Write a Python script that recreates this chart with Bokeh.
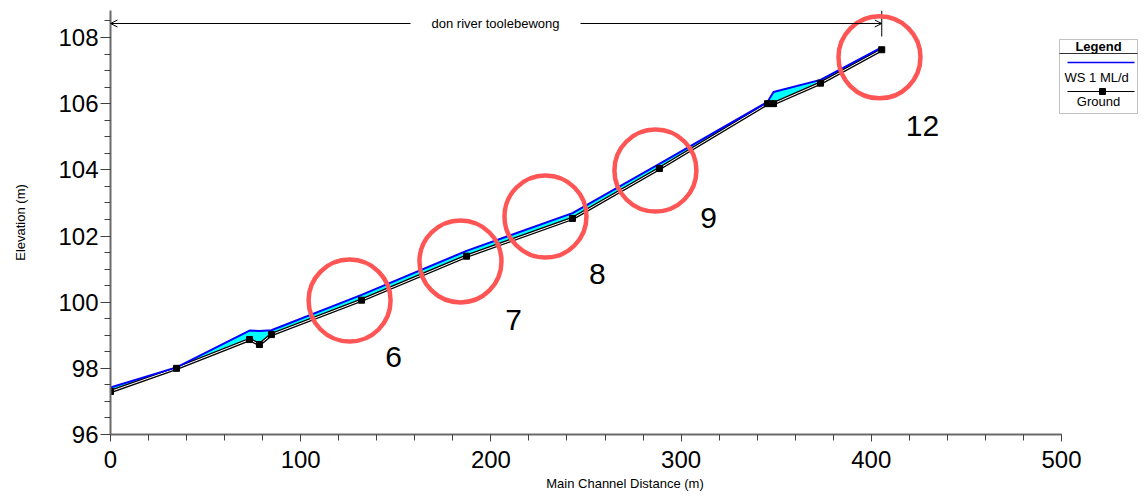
from bokeh.plotting import figure
from bokeh.models import FixedTicker, Range1d, Arrow, OpenHead, Title, BoxAnnotation
from bokeh.embed import file_html
from bokeh.resources import INLINE
from bokeh.core.properties import value

# ---- data ----
station = [0, 34.7, 73.1, 78.3, 84.6, 132.0, 187.2, 242.9, 288.6, 345.4, 348.6, 373.3, 405.5]
ground = [97.30, 98.00, 98.87, 98.72, 99.02, 100.06, 101.39, 102.53, 104.04, 106.00, 106.00, 106.62, 107.63]
ws = [97.42, 98.03, 99.14, 99.13, 99.15, 100.22, 101.55, 102.69, 104.18, 106.05, 106.35, 106.72, 107.70]

circle_x = [125.7, 184.0, 228.7, 286.5, 404.3]
circle_y = [100.05, 101.23, 102.59, 103.98, 107.40]
note_text = ["6", "7", "8", "9", "12"]
note_x = [148.8, 211.9, 256.0, 314.4, 426.9]
note_y = [98.33, 99.45, 100.84, 102.53, 105.31]

x_ticks = [0, 100, 200, 300, 400, 500]
x_minor = list(range(0, 501, 20))
y_ticks = [96, 98, 100, 102, 104, 106, 108]
y_minor = [96 + 0.5 * k for k in range(26)]

reach_name = "don river toolebewong"
reach_start, reach_end = 0, 405.5
legend_ws = "WS  1 ML/d"
legend_ground = "Ground"
x_title = "Main Channel Distance (m)"
y_title = "Elevation (m)"

FONT = "Liberation Sans"

# ---- layout (canvas pixels) ----
W, H = 1139, 494
ML, MT = 110, 10
MB = H - 434
PX_X = (1061 - 110) / 500.0
PX_Y = (434 - 37) / 12.0
X_END = (W - ML) / PX_X
Y_END = 96 + (434 - MT) / PX_Y


def px(xp, yp):
    """canvas pixel -> data coordinates"""
    return (xp - 110) / PX_X, 96 + (434 - yp) / PX_Y


p = figure(width=W, height=H, output_backend="svg", toolbar_location=None,
           x_range=Range1d(0, X_END), y_range=Range1d(96, Y_END),
           min_border_left=ML, min_border_right=0, min_border_top=MT, min_border_bottom=MB)
p.outline_line_color = None
p.grid.visible = False
p.background_fill_color = "white"
p.border_fill_color = "white"

# axes
xa = p.xaxis[0]
xa.ticker = FixedTicker(ticks=x_ticks, minor_ticks=x_minor)
xa.bounds = (0, 500)
ya = p.yaxis[0]
ya.ticker = FixedTicker(ticks=y_ticks, minor_ticks=y_minor)
ya.bounds = (96, Y_END)
ya.axis_label = y_title
for ax in (xa, ya):
    ax.axis_line_color = "#6a6a6a"
    ax.axis_line_width = 2
    ax.major_tick_line_color = "#404040"
    ax.minor_tick_line_color = "#404040"
    ax.major_tick_in = 0
    ax.minor_tick_in = 0
    ax.major_label_text_font = FONT
    ax.major_label_text_font_size = "24px"
    ax.major_label_text_color = "black"
    ax.axis_label_text_font = FONT
    ax.axis_label_text_font_size = "13px"
    ax.axis_label_text_font_style = "normal"
    ax.axis_label_text_color = "black"
xa.major_tick_out = 7
xa.minor_tick_out = 6
xa.major_label_standoff = 9
ya.major_tick_out = 10
ya.minor_tick_out = 6
ya.major_label_standoff = 2
ya.axis_label_standoff = 27

# x-axis title centred under the 0-500 axis (title in the bottom panel)
frame_mid = ML + (W - ML) / 2.0
p.add_layout(Title(text=x_title, align="center", offset=583 - frame_mid, standoff=6,
                   text_font=FONT, text_font_size="13px", text_font_style="normal",
                   text_color="black"), "below")

# water fill, ground, water surface
p.varea(x=station, y1=ground, y2=ws, fill_color="#00ffff")
p.line(station, ground, line_color="black", line_width=3.5)
p.line(station, ground, line_color="white", line_width=1)
p.line(station, ws, line_color="#0000ff", line_width=2)
p.scatter(station, ground, marker="square", size=6, color="black")

# reach annotation
ay = px(0, 23)[1]
tx0 = px(410, 0)[0]
tx1 = px(580, 0)[0]
p.add_layout(Arrow(end=OpenHead(size=7, line_width=1, line_color="black"),
                   x_start=tx0, y_start=ay, x_end=reach_start, y_end=ay,
                   line_color="black", line_width=1))
p.add_layout(Arrow(end=OpenHead(size=7, line_width=1, line_color="black"),
                   x_start=tx1, y_start=ay, x_end=reach_end, y_end=ay,
                   line_color="black", line_width=1))
p.segment(x0=[reach_end], y0=[Y_END], x1=[reach_end], y1=[px(0, 36)[1]],
          line_color="black", line_width=1)
p.text(x=[(tx0 + tx1) / 2], y=[ay], text=[reach_name], text_align="center",
       text_baseline="middle", text_font=value(FONT), text_font_size="13px",
       text_color="black")

# highlight circles and numbers
p.scatter(circle_x, circle_y, marker="circle", size=82, fill_alpha=0,
          line_color="#ff5555", line_width=4.5)
p.text(x=note_x, y=note_y, text=note_text, text_align="center", text_baseline="middle",
       text_font=value(FONT), text_font_size="30px", text_color="black")

# legend (drawn manually, right of the 0-500 axis)
l, t = px(1059, 39)
r, b = px(1137, 113)
p.add_layout(BoxAnnotation(left=l, right=r, top=t, bottom=b, fill_alpha=0,
                           line_color="#333333", line_width=1))
sy = px(0, 53)[1]
p.segment(x0=[l], y0=[sy], x1=[r], y1=[sy], line_color="#333333", line_width=1)
cx = (l + r) / 2
lx0 = px(1067, 0)[0]
lx1 = px(1134, 0)[0]
p.text(x=[cx], y=[px(0, 46)[1]], text=["Legend"], text_align="center", text_baseline="middle",
       text_font=value(FONT), text_font_size="13px", text_font_style="bold", text_color="black")
wy = px(0, 62)[1]
p.segment(x0=[lx0], y0=[wy], x1=[lx1], y1=[wy], line_color="#0000ff", line_width=1.5)
p.text(x=[cx], y=[px(0, 77)[1]], text=[legend_ws], text_align="center", text_baseline="middle",
       text_font=value(FONT), text_font_size="13px", text_color="black")
gy = px(0, 91)[1]
p.segment(x0=[lx0], y0=[gy], x1=[lx1], y1=[gy], line_color="black", line_width=1)
p.scatter(x=[px(1102, 0)[0]], y=[gy], marker="square", size=6, color="black")
p.text(x=[cx], y=[px(0, 101)[1]], text=[legend_ground], text_align="center", text_baseline="middle",
       text_font=value(FONT), text_font_size="13px", text_color="black")

open("out.html", "w").write(file_html(p, INLINE))
